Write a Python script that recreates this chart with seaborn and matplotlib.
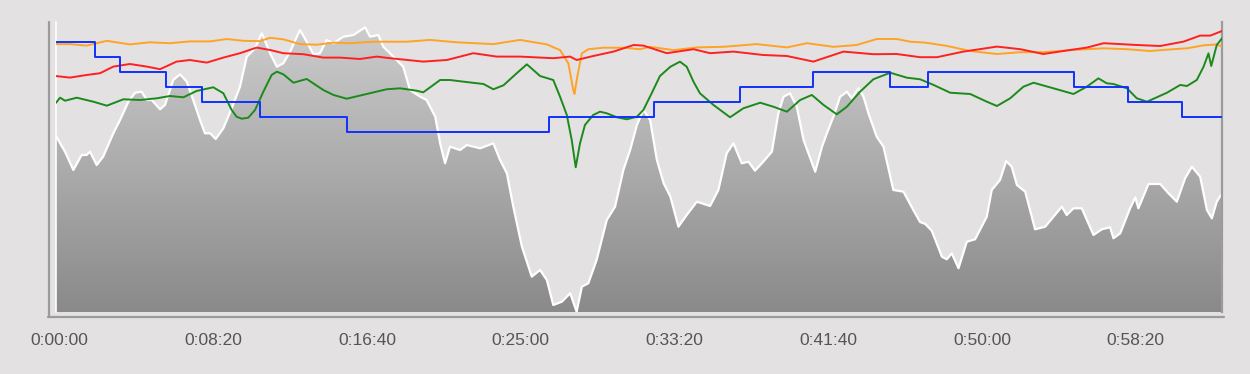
import numpy as np
import seaborn as sns
import matplotlib.pyplot as plt
from matplotlib.colors import LinearSegmentedColormap
from matplotlib.lines import Line2D
from matplotlib.transforms import ScaledTranslation

# ride data (time in seconds)
duration = 3794

time_elev = [0, 15, 31, 58, 85, 101, 112, 134, 155, 188, 210, 237, 259, 280, 297, 313, 340, 356,
             383, 405, 427, 448, 470, 486, 503, 521, 546, 573, 600, 622, 649, 671, 698, 720, 741,
             763, 795, 817, 839, 860, 882, 904, 936, 969, 1007, 1023, 1050, 1066, 1088, 1131, 1153,
             1186, 1207, 1235, 1251, 1267, 1283, 1316, 1338, 1381, 1424, 1446, 1468, 1489, 1517,
             1549, 1576, 1598, 1619, 1647, 1674, 1695, 1712, 1733, 1760, 1793, 1820, 1847, 1869,
             1891, 1912, 1934, 1956, 1978, 2000, 2026, 2053, 2086, 2129, 2156, 2183, 2205, 2232,
             2254, 2275, 2302, 2330, 2351, 2368, 2389, 2411, 2433, 2471, 2493, 2509, 2530, 2552,
             2574, 2590, 2612, 2628, 2644, 2671, 2693, 2725, 2758, 2790, 2812, 2829, 2850, 2883,
             2899, 2915, 2937, 2964, 2991, 3029, 3045, 3072, 3092, 3110, 3127, 3154, 3186, 3219,
             3246, 3273, 3289, 3311, 3338, 3376, 3403, 3430, 3441, 3463, 3495, 3512, 3522, 3555,
             3593, 3620, 3647, 3674, 3696, 3723, 3745, 3761, 3777, 3794]
elevation = [177, 168.7, 160.3, 142, 157, 157, 160.3, 147, 155.3, 178.7, 192, 210.3, 219.3, 220.3,
             212, 212, 202.7, 207, 232, 237.7, 230.3, 212, 192, 178.7, 178.7, 173, 183.7, 203.7,
             225.3, 255.3, 263.7, 278.7, 258.7, 245.3, 248.7, 260.3, 282, 270.3, 257.7, 258.7, 272,
             268.7, 275.3, 277, 284.7, 275.3, 277, 265.3, 258.7, 245.3, 222, 215.3, 212, 195.3,
             168.7, 148.7, 165.3, 162, 167, 163.7, 168.7, 152, 138.7, 105.3, 65.3, 35.3, 42, 32, 7,
             10.3, 18.7, 0.3, 25.3, 28.7, 52, 92, 105.3, 142, 162, 187, 202, 192, 152, 128.7, 115.3,
             85.3, 97, 110.3, 106, 122, 158.7, 168.7, 148.7, 150.3, 141.3, 150.3, 160.3, 198.7,
             215.3, 218.7, 205.3, 172, 140.3, 165.3, 178.7, 195.3, 215.3, 220.3, 213.7, 223.7,
             215.3, 198.7, 175.3, 165.3, 122, 120.3, 102, 90, 88, 81.3, 55.3, 52.7, 58.7, 43.7,
             70.3, 72.7, 95.3, 122, 132, 151, 145.3, 127, 120.3, 82.7, 85.3, 95.3, 105.3, 97, 103.7,
             103.7, 77, 82.7, 84.7, 73.7, 78.7, 103.7, 114.7, 103.7, 128, 128, 118.7, 110.3, 133.7,
             145.3, 135.3, 102, 93.7, 110.3, 118.7]

time_hr = [0, 47, 101, 145, 188, 242, 297, 340, 394, 437, 492, 546, 600, 654, 698, 741, 806, 871,
           925, 990, 1045, 1088, 1196, 1273, 1359, 1435, 1511, 1619, 1674, 1695, 1749, 1815, 1880,
           1912, 1988, 2075, 2129, 2205, 2302, 2379, 2465, 2563, 2660, 2736, 2812, 2867, 2953,
           3062, 3138, 3213, 3278, 3354, 3409, 3517, 3593, 3669, 3723, 3756, 3794]
heart_rate = [168, 167.2, 168.5, 169.4, 172.7, 174, 172.7, 171.4, 175.2, 176, 174.7, 177.2, 179.4,
              182.2, 181, 179.4, 178.9, 177.2, 177.2, 176.5, 177.7, 176.9, 175.2, 176, 179.4,
              177.7, 177.7, 176.9, 177.7, 176, 178, 180.2, 183.5, 183.2, 179.4, 181.4, 179.4,
              180.2, 178.5, 178, 175.2, 180.2, 178.9, 179, 177.4, 177.4, 180.2, 182.7, 181.4, 179,
              180.5, 182.2, 184.4, 183.5, 183, 185.2, 188.2, 188.2, 190.5]

time_cad = [0, 47, 101, 167, 242, 307, 372, 437, 503, 557, 611, 665, 698, 741, 795, 850, 904, 958,
            1034, 1142, 1218, 1305, 1424, 1511, 1598, 1641, 1668, 1684, 1688, 1697, 1712, 1733,
            1782, 1847, 1901, 1934, 2010, 2086, 2172, 2281, 2379, 2444, 2530, 2606, 2671, 2736,
            2780, 2829, 2899, 2975, 3062, 3138, 3213, 3300, 3409, 3485, 3560, 3636, 3680, 3734,
            3777, 3794]
cadence = [89.3, 89.3, 88.8, 90.4, 89.2, 89.9, 89.6, 90.2, 90.2, 91, 90.4, 90.3, 91.4, 90.9, 89.3,
           89.1, 89.8, 89.6, 90.1, 90.1, 90.7, 89.9, 89.3, 90.7, 89.2, 87.3, 82.9, 74, 72.7, 78.4,
           86.2, 87.6, 88.1, 88.1, 87.6, 88.4, 87.3, 88.2, 88.4, 89.3, 88.2, 89.6, 88.4, 89, 91,
           91, 90.1, 89.8, 88.7, 87, 86, 86.6, 86.6, 87.3, 87.9, 87.6, 87, 87.6, 87.9, 88.9, 89.2,
           88.4]

time_speed = [0, 15, 31, 69, 123, 167, 221, 275, 329, 372, 416, 459, 513, 546, 573, 589, 606, 627,
              649, 676, 703, 720, 741, 774, 817, 871, 904, 947, 1012, 1077, 1121, 1175, 1196, 1229,
              1251, 1283, 1327, 1392, 1424, 1457, 1500, 1533, 1554, 1576, 1619, 1641, 1663, 1679,
              1692, 1706, 1722, 1749, 1771, 1793, 1826, 1858, 1891, 1912, 1939, 1966, 2000, 2031,
              2053, 2075, 2096, 2140, 2194, 2237, 2292, 2335, 2379, 2422, 2460, 2498, 2541, 2574,
              2617, 2660, 2715, 2769, 2812, 2856, 2910, 2975, 3029, 3062, 3105, 3148, 3181, 3246,
              3311, 3354, 3392, 3419, 3441, 3485, 3517, 3550, 3582, 3615, 3658, 3680, 3712, 3734,
              3750, 3759, 3777, 3794]
speed = [26.09, 26.79, 26.41, 26.79, 26.29, 25.79, 26.59, 26.5, 26.71, 27, 26.84, 27.63, 28.09,
         27.34, 25.25, 24.41, 24.16, 24.29, 25.25, 27.54, 29.63, 30.04, 29.71, 28.66, 29.13, 27.75,
         27.13, 26.66, 27.25, 27.84, 27.96, 27.66, 27.46, 28.38, 29, 29, 28.79, 28.5, 27.84, 28.34,
         29.84, 30.96, 30.25, 29.5, 29, 26.91, 24.63, 21.5, 18.09, 21.09, 23.38, 24.63, 25.04,
         24.84, 24.34, 24.09, 24.41, 25.25, 27.34, 29.5, 30.66, 31.29, 30.66, 28.79, 27.34, 25.88,
         24.34, 25.46, 26.16, 25.66, 25.04, 26.5, 27.13, 25.88, 24.71, 25.66, 27.54, 29.09, 29.91,
         29.29, 29.09, 28.38, 27.41, 27.25, 26.29, 25.75, 26.71, 28.16, 28.66, 27.96, 27.25,
         28.16, 29.21, 28.59, 28.5, 27.96, 26.71, 26.29, 26.84, 27.41, 28.38, 28.25, 29, 30.66,
         32.33, 30.75, 33.38, 34.21]

time_gear = [0, 128, 210, 358, 476, 665, 947, 1606, 1945, 2227, 2463, 2715, 2839, 3313, 3487, 3664,
             3794]
gear = [7, 6, 5, 4, 3, 2, 1, 2, 3, 4, 5, 4, 5, 4, 3, 2, 2]

tick_secs = [0, 500, 1000, 1500, 2000, 2500, 3000, 3500]
tick_labels = ['0:00:00', '0:08:20', '0:16:40', '0:25:00', '0:33:20', '0:41:40', '0:50:00',
               '0:58:20']

sns.set_style('white')
plt.rcParams['font.family'] = ['Liberation Sans', 'DejaVu Sans']

bg = '#e3e1e1'
fig = plt.figure(figsize=(12.5, 3.74), dpi=100, facecolor=bg)
ax = fig.add_axes([55.5 / 1250, 1 - 312 / 374, (1222 - 55.5) / 1250, 290 / 374])
ax.set_facecolor(bg)

# elevation area with vertical gradient
area = ax.fill_between(time_elev, elevation, 0, facecolor='none', edgecolor='none')
grad = np.linspace(1, 0, 256).reshape(-1, 1)
cmap = LinearSegmentedColormap.from_list('elev', ['#8a8a8a', '#cdcdcd'])
img = ax.imshow(grad, extent=[0, duration, 0, 290], aspect='auto', cmap=cmap, zorder=1)
img.set_clip_path(area.get_paths()[0], transform=ax.transData)
sns.lineplot(x=time_elev, y=elevation, ax=ax, color='white', lw=1.6, estimator=None, sort=False)
ax.set_xlim(0, duration)
ax.set_ylim(0, 290)


def overlay(lo, hi):
    tw = ax.twinx()
    tw.set_ylim(lo, hi)
    tw.axis('off')
    return tw


line_kw = dict(lw=1.4, estimator=None, sort=False, solid_joinstyle='round')
ax_cad = overlay(0, 96.67)
sns.lineplot(x=time_cad, y=cadence, ax=ax_cad, color='#ffa326', **line_kw)
ax_hr = overlay(50, 195)
sns.lineplot(x=time_hr, y=heart_rate, ax=ax_hr, color='#ff2020', **line_kw)
ax_spd = overlay(0, 36.25)
sns.lineplot(x=time_speed, y=speed, ax=ax_spd, color='#1b8a1b', **line_kw)
ax_gear = overlay(-10.98, 8.353)
sns.lineplot(x=time_gear, y=gear, ax=ax_gear, color='#1030ff', drawstyle='steps-post', **line_kw)

for a in [ax, ax_cad, ax_hr, ax_spd, ax_gear]:
    a.set_xlim(0, duration)

ax.set_xlabel('')
ax.set_ylabel('')
ax.set_yticks([])
ax.set_xticks(tick_secs, tick_labels)
ax.tick_params(axis='x', length=0, pad=15, labelsize=12.5, colors='#555555')
shift = ScaledTranslation(4 / 100, 0, fig.dpi_scale_trans)
for lbl in ax.get_xticklabels():
    lbl.set_transform(lbl.get_transform() + shift)

ax.spines['top'].set_visible(False)
ax.spines['bottom'].set_visible(False)
ax.spines['left'].set_color('white')
ax.spines['left'].set_linewidth(1.2)
ax.spines['right'].set_color('#9b9b9b')
ax.spines['right'].set_linewidth(1.6)

# outer frame lines
fig.add_artist(Line2D([49 / 1250, 49 / 1250], [1 - 22 / 374, 1 - 317 / 374], color='#9b9b9b', lw=1.6))
fig.add_artist(Line2D([48 / 1250, 1224 / 1250], [1 - 316.5 / 374, 1 - 316.5 / 374], color='#9b9b9b', lw=1.6))

fig.savefig('out.png', dpi=100, facecolor=bg)
